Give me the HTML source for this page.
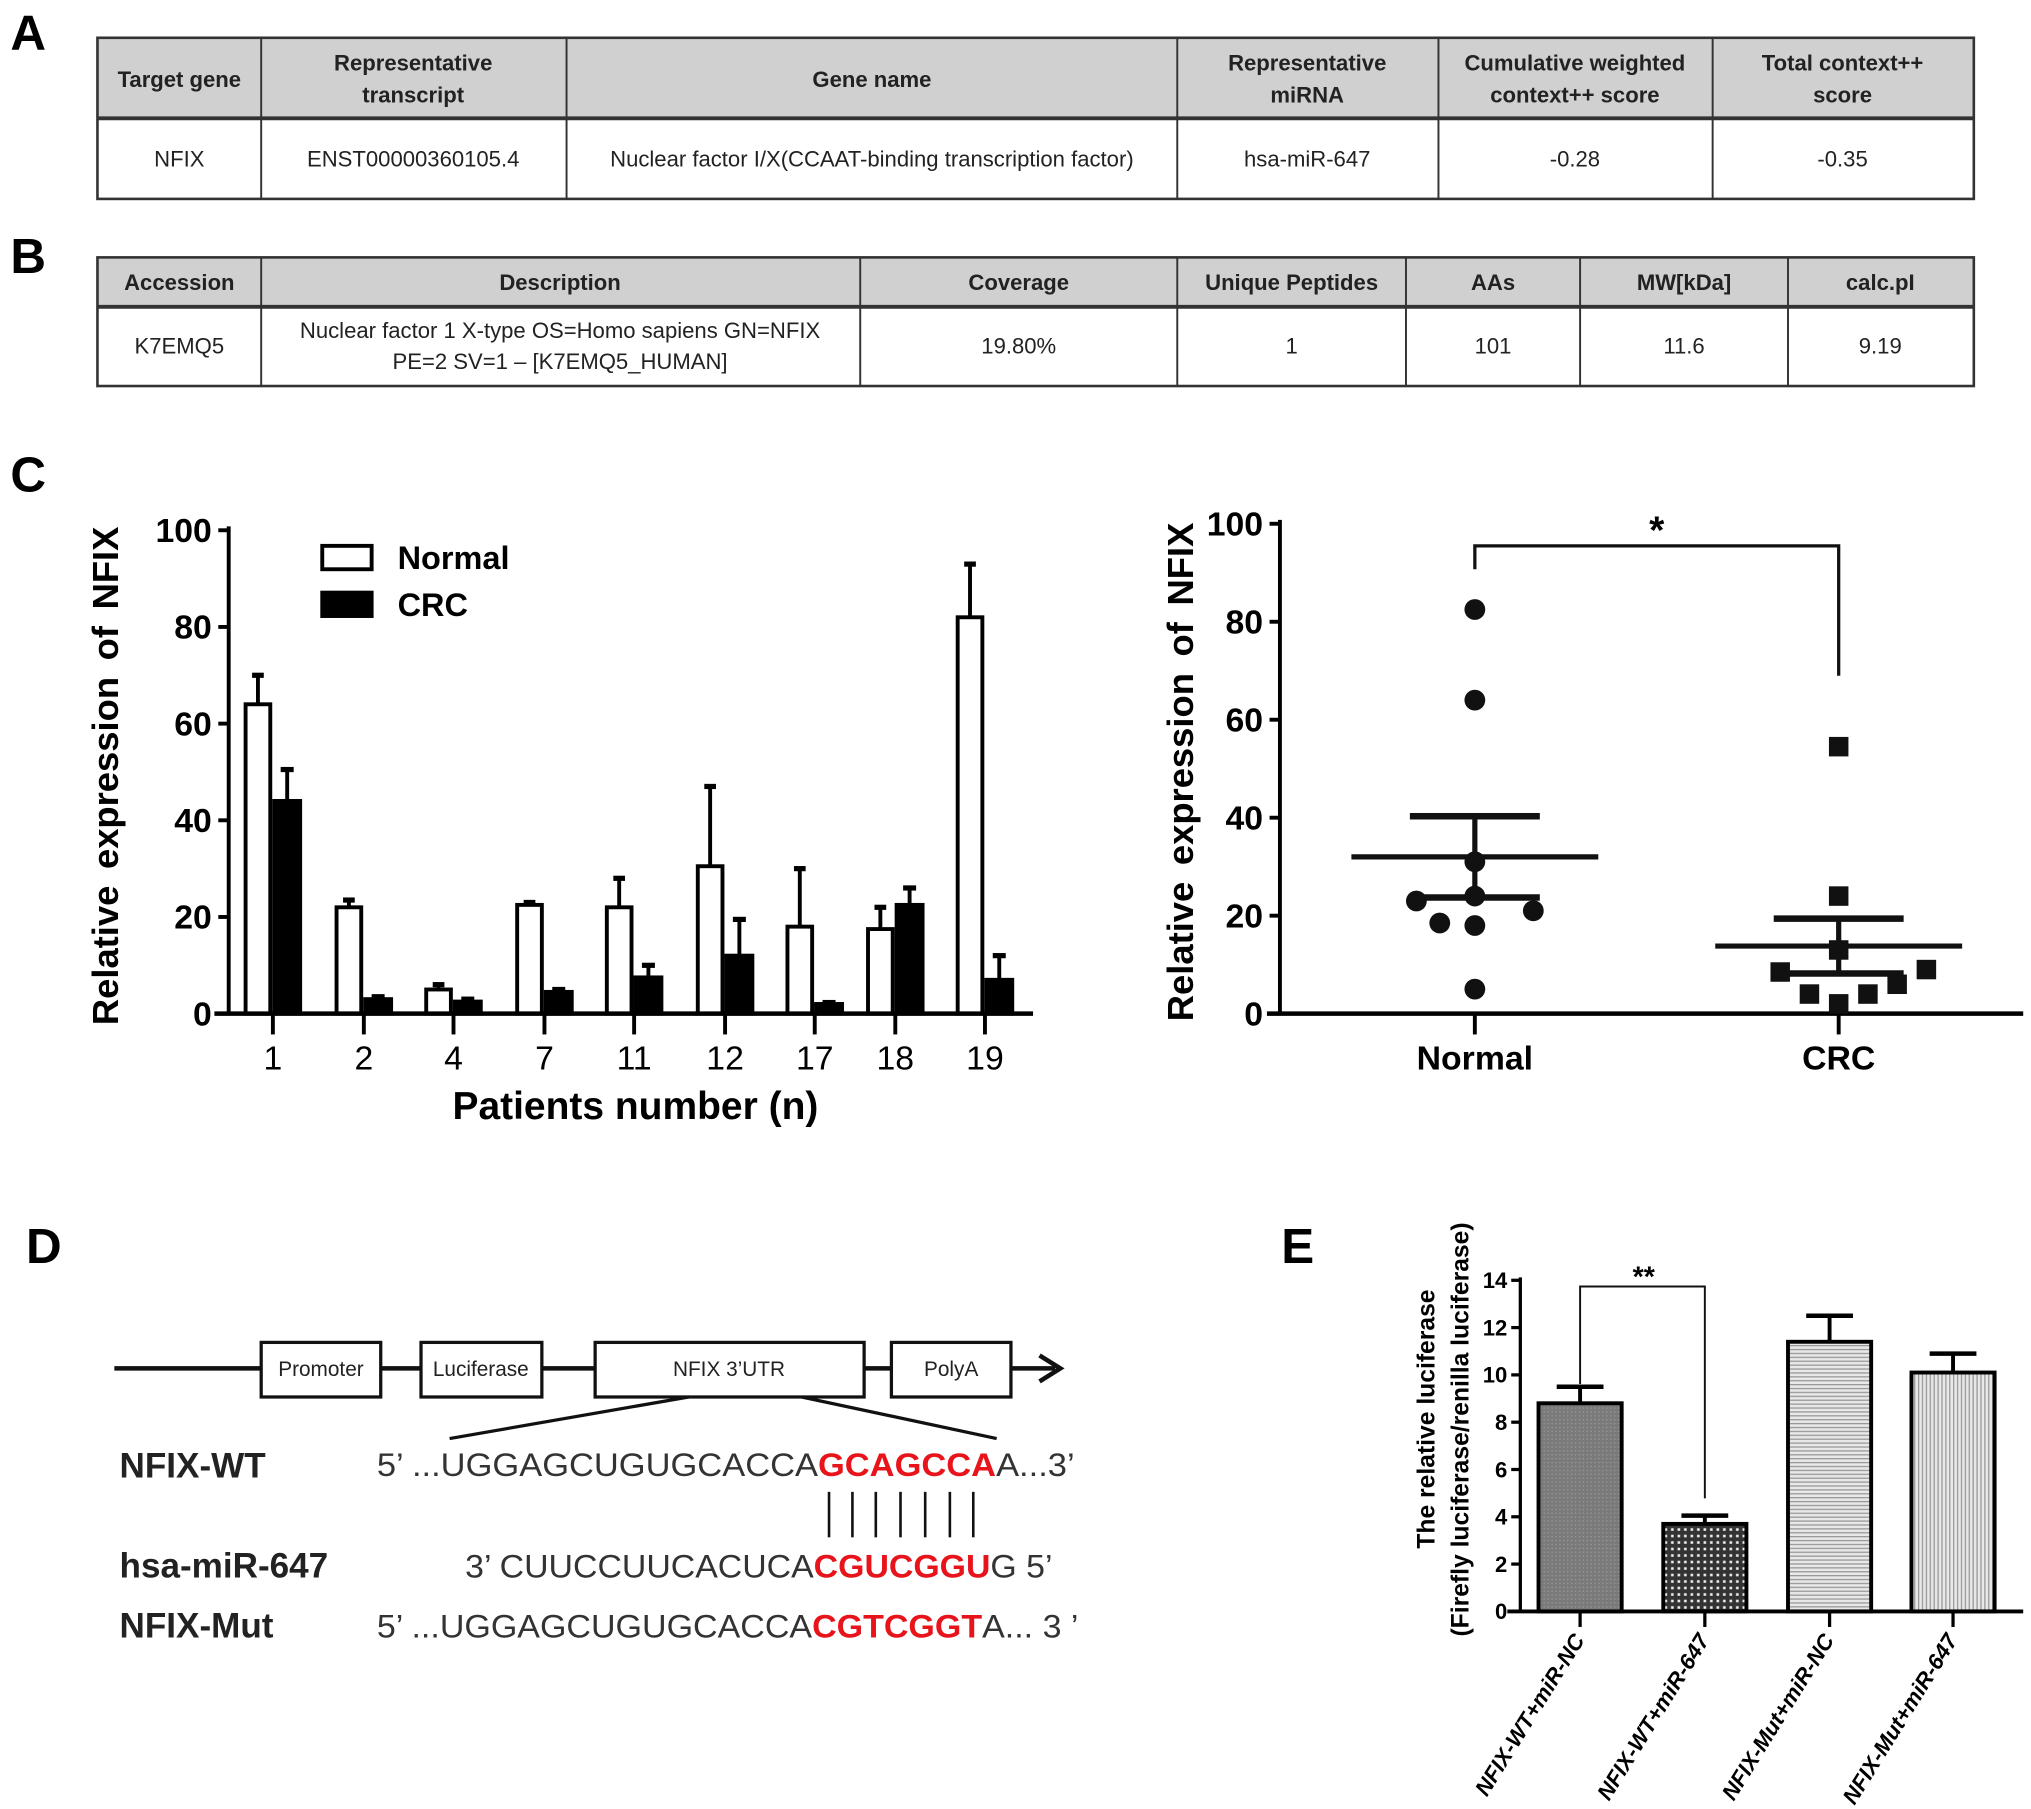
<!DOCTYPE html>
<html><head><meta charset="utf-8"><style>
html,body{margin:0;padding:0;background:#fff;}
svg{display:block;font-family:"Liberation Sans",sans-serif;}
.tb{font-family:"Liberation Sans Narrow","Liberation Sans",sans-serif;font-size:17px;fill:#222;}
</style></head><body>
<svg width="2031" height="1809" viewBox="0 0 1563 1392">
<defs>
<pattern id="pDark" width="3" height="3" patternUnits="userSpaceOnUse"><rect width="3" height="3" fill="#7a7a7a"/><rect width="1" height="1" fill="#9a9a9a"/></pattern>
<pattern id="pCheck" width="5" height="5" patternUnits="userSpaceOnUse"><rect width="5" height="5" fill="#333"/><rect x="1" y="1" width="2" height="2" fill="#eee"/></pattern>
<pattern id="pHor" width="4" height="3" patternUnits="userSpaceOnUse"><rect width="4" height="3" fill="#e8e8e8"/><rect width="4" height="1" fill="#999"/></pattern>
<pattern id="pVer" width="3" height="4" patternUnits="userSpaceOnUse"><rect width="3" height="4" fill="#e8e8e8"/><rect width="1" height="4" fill="#999"/></pattern>
</defs>

<g font-weight="bold" font-size="38">
<text x="8" y="38">A</text><text x="8" y="210">B</text><text x="8" y="378">C</text><text x="20" y="972">D</text><text x="986" y="972">E</text>
</g>

<g>
<rect x="75" y="29" width="1444" height="62" fill="#d0d0d0"/>
<rect x="75" y="29" width="1444" height="124" fill="none" stroke="#333" stroke-width="2"/>
<line x1="75" y1="91" x2="1519" y2="91" stroke="#333" stroke-width="3"/>
<g stroke="#333" stroke-width="1.5"><line x1="201" y1="29" x2="201" y2="153"/><line x1="436" y1="29" x2="436" y2="153"/><line x1="906" y1="29" x2="906" y2="153"/><line x1="1107" y1="29" x2="1107" y2="153"/><line x1="1318" y1="29" x2="1318" y2="153"/></g>
<g class="tb" text-anchor="middle" font-weight="bold">
<text x="138" y="67">Target gene</text>
<text x="318" y="54">Representative</text><text x="318" y="79">transcript</text>
<text x="671" y="67">Gene name</text>
<text x="1006" y="54">Representative</text><text x="1006" y="79">miRNA</text>
<text x="1212" y="54">Cumulative weighted</text><text x="1212" y="79">context++ score</text>
<text x="1418" y="54">Total context++</text><text x="1418" y="79">score</text>
</g>
<g class="tb" text-anchor="middle">
<text x="138" y="128">NFIX</text><text x="318" y="128">ENST00000360105.4</text>
<text x="671" y="128">Nuclear factor I/X(CCAAT-binding transcription factor)</text>
<text x="1006" y="128">hsa-miR-647</text><text x="1212" y="128">-0.28</text><text x="1418" y="128">-0.35</text>
</g></g>

<g>
<rect x="75" y="198" width="1444" height="38" fill="#d0d0d0"/>
<rect x="75" y="198" width="1444" height="99" fill="none" stroke="#333" stroke-width="2"/>
<line x1="75" y1="236" x2="1519" y2="236" stroke="#333" stroke-width="3"/>
<g stroke="#333" stroke-width="1.5"><line x1="201" y1="198" x2="201" y2="297"/><line x1="662" y1="198" x2="662" y2="297"/><line x1="906" y1="198" x2="906" y2="297"/><line x1="1082" y1="198" x2="1082" y2="297"/><line x1="1216" y1="198" x2="1216" y2="297"/><line x1="1376" y1="198" x2="1376" y2="297"/></g>
<g class="tb" text-anchor="middle" font-weight="bold">
<text x="138" y="223">Accession</text><text x="431" y="223">Description</text><text x="784" y="223">Coverage</text>
<text x="994" y="223">Unique Peptides</text><text x="1149" y="223">AAs</text><text x="1296" y="223">MW[kDa]</text><text x="1447" y="223">calc.pI</text>
</g>
<g class="tb" text-anchor="middle">
<text x="138" y="272">K7EMQ5</text>
<text x="431" y="260">Nuclear factor 1 X-type OS=Homo sapiens GN=NFIX</text>
<text x="431" y="284">PE=2 SV=1 – [K7EMQ5_HUMAN]</text>
<text x="784" y="272">19.80%</text><text x="994" y="272">1</text><text x="1149" y="272">101</text><text x="1296" y="272">11.6</text><text x="1447" y="272">9.19</text>
</g></g>

<g id="chartC1"></g>
<g id="chartC2"></g>

<g>
<line x1="88" y1="1053" x2="812" y2="1053" stroke="#111" stroke-width="3.5"/>
<polyline points="800,1043 816,1053 800,1063" fill="none" stroke="#111" stroke-width="3.5"/>
<g fill="#fff" stroke="#111" stroke-width="2.5">
<rect x="201" y="1033" width="92" height="42"/><rect x="324" y="1033" width="93" height="42"/><rect x="458" y="1033" width="207" height="42"/><rect x="686" y="1033" width="92" height="42"/>
</g>
<g font-size="16" text-anchor="middle" fill="#222" font-family="Liberation Sans Narrow,Liberation Sans,sans-serif">
<text x="247" y="1059">Promoter</text><text x="370" y="1059">Luciferase</text><text x="561" y="1059">NFIX 3’UTR</text><text x="732" y="1059">PolyA</text>
</g>
<line x1="530" y1="1075" x2="346" y2="1107" stroke="#111" stroke-width="2.5"/>
<line x1="617" y1="1075" x2="767" y2="1107" stroke="#111" stroke-width="2.5"/>
<g font-size="27" font-weight="bold" fill="#222">
<text x="92" y="1137">NFIX-WT</text><text x="92" y="1214">hsa-miR-647</text><text x="92" y="1260">NFIX-Mut</text>
</g>
<g font-size="25" fill="#333">
<text x="290" y="1136" textLength="537" lengthAdjust="spacingAndGlyphs">5’ ...UGGAGCUGUGCACCA<tspan fill="#e8141c" font-weight="bold">GCAGCCA</tspan>A...3’</text>
<text x="358" y="1214" textLength="452" lengthAdjust="spacingAndGlyphs">3’ CUUCCUUCACUCA<tspan fill="#e8141c" font-weight="bold">CGUCGGU</tspan>G 5’</text>
<text x="290" y="1260" textLength="540" lengthAdjust="spacingAndGlyphs">5’ ...UGGAGCUGUGCACCA<tspan fill="#e8141c" font-weight="bold">CGTCGGT</tspan>A... 3 ’</text>
</g>
<g stroke="#111" stroke-width="2">
<line x1="638" y1="1148" x2="638" y2="1183"/><line x1="656" y1="1148" x2="656" y2="1183"/><line x1="674" y1="1148" x2="674" y2="1183"/><line x1="693" y1="1148" x2="693" y2="1183"/><line x1="712" y1="1148" x2="712" y2="1183"/><line x1="731" y1="1148" x2="731" y2="1183"/><line x1="749" y1="1148" x2="749" y2="1183"/>
</g>
</g>

<g id="chartE"></g>
</svg>

<script>
const cCats = ["1","2","4","7","11","12","17","18","19"];
const cNormal = [64,22,5,22.5,22,30.5,18,17.5,82];
const cNormalErr = [6,1.5,1,0.5,6,16.5,12,4.5,11];
const cCRC = [44,3,2.5,4.5,7.5,12,2,22.5,7];
const cCRCErr = [6.5,0.5,0.5,0.5,2.5,7.5,0.3,3.5,5];
const cTicks = [0,20,40,60,80,100];
const sGroups = ["Normal","CRC"];
const sNormalVals = [82.5,64,31,24,23,21,18.5,18,5];
const sNormalJit = [0,0,0,0,-1,1,-0.6,0,0];
const sCRCVals = [54.5,24,13,8.5,9,6,4,4,2];
const sCRCJit = [0,0,0,-1,1.5,1,-0.5,0.5,0];
const sMean = [32,13.8];
const sSem = [8.3,5.6];
const sTicks = [0,20,40,60,80,100];
const eCats = ["NFIX-WT+miR-NC","NFIX-WT+miR-647","NFIX-Mut+miR-NC","NFIX-Mut+miR-647"];
const eVals = [8.8,3.7,11.4,10.1];
const eErr = [0.7,0.35,1.1,0.8];
const eTicks = [0,2,4,6,8,10,12,14];

const NS="http://www.w3.org/2000/svg";
function mk(p,tag,attrs,txt){const e=document.createElementNS(NS,tag);for(const k in attrs)e.setAttribute(k,attrs[k]);if(txt!==undefined)e.textContent=txt;p.appendChild(e);return e;}

(function(){
const g=document.getElementById('chartC1');
const y=v=>780-3.72*v;
const xs=[210,280,349,419,488,558,627,689,758];
const x=i=>xs[i];
cNormal.forEach((v,i)=>{
  const b=mk(g,'rect',{x:x(i)-21,y:y(v),width:19,height:780-y(v),fill:'#fff',stroke:'#000','stroke-width':3});
  
  
  mk(g,'line',{x1:x(i)-11.5,x2:x(i)-11.5,y1:y(v),y2:y(v+cNormalErr[i]),stroke:'#000','stroke-width':3});
  mk(g,'line',{x1:x(i)-16,x2:x(i)-7,y1:y(v+cNormalErr[i]),y2:y(v+cNormalErr[i]),stroke:'#000','stroke-width':4});
  const c=cCRC[i];
  const b2=mk(g,'rect',{x:x(i)+1,y:y(c),width:20,height:780-y(c),fill:'#000',stroke:'#000','stroke-width':3});
  
  
  mk(g,'line',{x1:x(i)+11,x2:x(i)+11,y1:y(c),y2:y(c+cCRCErr[i]),stroke:'#000','stroke-width':3});
  mk(g,'line',{x1:x(i)+6,x2:x(i)+16,y1:y(c+cCRCErr[i]),y2:y(c+cCRCErr[i]),stroke:'#000','stroke-width':4});
  mk(g,'line',{x1:x(i),x2:x(i),y1:780,y2:796,stroke:'#000','stroke-width':3});
  mk(g,'text',{x:x(i),y:823,'font-size':26,'text-anchor':'middle'},cCats[i]);
});
mk(g,'line',{x1:176,x2:176,y1:405,y2:781,stroke:'#000','stroke-width':3});
mk(g,'line',{x1:165,x2:795,y1:780,y2:780,stroke:'#000','stroke-width':3.5});
cTicks.forEach(t=>{mk(g,'line',{x1:168,x2:176,y1:y(t),y2:y(t),stroke:'#000','stroke-width':3});
  mk(g,'text',{x:163,y:y(t)+9,'font-size':26,'font-weight':'bold','text-anchor':'end'},t);});
mk(g,'text',{x:489,y:861,'font-size':30,'font-weight':'bold','text-anchor':'middle'},'Patients number (n)');
mk(g,'text',{transform:'translate(91,597) rotate(-90)','font-size':28,'font-weight':'bold','text-anchor':'middle','word-spacing':5},'Relative  expression of NFIX');
mk(g,'rect',{x:248,y:420,width:38,height:18,fill:'#fff',stroke:'#000','stroke-width':3});
mk(g,'rect',{x:248,y:456,width:38,height:18,fill:'#000',stroke:'#000','stroke-width':3});
mk(g,'text',{x:306,y:438,'font-size':25,'font-weight':'bold'},'Normal');
mk(g,'text',{x:306,y:474,'font-size':25,'font-weight':'bold'},'CRC');
})();

(function(){
const g=document.getElementById('chartC2');
const y=v=>780-3.77*v;
const xc=[1135,1415];
mk(g,'line',{x1:985,x2:985,y1:400,y2:781,stroke:'#000','stroke-width':3});
mk(g,'line',{x1:975,x2:1557,y1:780,y2:780,stroke:'#000','stroke-width':3.5});
sTicks.forEach(t=>{mk(g,'line',{x1:977,x2:985,y1:y(t),y2:y(t),stroke:'#000','stroke-width':3});
  mk(g,'text',{x:972,y:y(t)+9,'font-size':26,'font-weight':'bold','text-anchor':'end'},t);});
sGroups.forEach((s,i)=>{mk(g,'line',{x1:xc[i],x2:xc[i],y1:780,y2:796,stroke:'#000','stroke-width':3});
  mk(g,'text',{x:xc[i],y:823,'font-size':26,'font-weight':'bold','text-anchor':'middle'},s);});
sNormalVals.forEach((v,i)=>{const c=mk(g,'circle',{cx:xc[0]+sNormalJit[i]*45,cy:y(v),r:8,fill:'#111'});
  
  });
sCRCVals.forEach((v,i)=>{const c=mk(g,'rect',{x:xc[1]+sCRCJit[i]*45-7.5,y:y(v)-7.5,width:15,height:15,fill:'#111'});
  
  });
sMean.forEach((m,i)=>{
  mk(g,'line',{x1:xc[i]-95,x2:xc[i]+95,y1:y(m),y2:y(m),stroke:'#111','stroke-width':4});
  mk(g,'line',{x1:xc[i],x2:xc[i],y1:y(m+sSem[i]),y2:y(m-sSem[i]),stroke:'#111','stroke-width':4});
  mk(g,'line',{x1:xc[i]-50,x2:xc[i]+50,y1:y(m+sSem[i]),y2:y(m+sSem[i]),stroke:'#111','stroke-width':5});
  mk(g,'line',{x1:xc[i]-50,x2:xc[i]+50,y1:y(m-sSem[i]),y2:y(m-sSem[i]),stroke:'#111','stroke-width':5});
});
mk(g,'polyline',{points:`${xc[0]},438 ${xc[0]},420 ${xc[1]},420 ${xc[1]},520`,fill:'none',stroke:'#111','stroke-width':2.5});
mk(g,'text',{x:1275,y:418,'font-size':30,'font-weight':'bold','text-anchor':'middle'},'*');
mk(g,'text',{transform:'translate(918,594) rotate(-90)','font-size':28,'font-weight':'bold','text-anchor':'middle','word-spacing':5},'Relative  expression of NFIX');
})();

(function(){
const g=document.getElementById('chartE');
const y=v=>1240-18.2*v;
const xs=[1216,1312,1408,1503];
const fills=['url(#pDark)','url(#pCheck)','url(#pHor)','url(#pVer)'];
mk(g,'line',{x1:1170,x2:1170,y1:983,y2:1241,stroke:'#000','stroke-width':2.5});
mk(g,'line',{x1:1160,x2:1557,y1:1240,y2:1240,stroke:'#000','stroke-width':3});
eTicks.forEach(t=>{mk(g,'line',{x1:1163,x2:1170,y1:y(t),y2:y(t),stroke:'#000','stroke-width':2.5});
  mk(g,'text',{x:1160,y:y(t)+6,'font-size':17,'font-weight':'bold','text-anchor':'end'},t);});
eVals.forEach((v,i)=>{
  const b=mk(g,'rect',{x:xs[i]-32,y:y(v),width:64,height:1240-y(v),fill:fills[i],stroke:'#000','stroke-width':3});
  
  
  mk(g,'line',{x1:xs[i],x2:xs[i],y1:y(v),y2:y(v+eErr[i]),stroke:'#000','stroke-width':3});
  mk(g,'line',{x1:xs[i]-18,x2:xs[i]+18,y1:y(v+eErr[i]),y2:y(v+eErr[i]),stroke:'#000','stroke-width':3.5});
  mk(g,'line',{x1:xs[i],x2:xs[i],y1:1240,y2:1252,stroke:'#000','stroke-width':2.5});
  mk(g,'text',{transform:`translate(${xs[i]+4},1262) rotate(-58)`,'font-size':17,'font-weight':'bold','font-style':'italic','text-anchor':'end'},eCats[i]);
});
mk(g,'polyline',{points:`${xs[0]},1065 ${xs[0]},990 ${xs[1]},990 ${xs[1]},1153`,fill:'none',stroke:'#111','stroke-width':1.5});
mk(g,'text',{x:1265,y:990,'font-size':22,'font-weight':'bold','text-anchor':'middle'},'**');
mk(g,'text',{transform:'translate(1104,1092) rotate(-90)','font-size':19,'font-weight':'bold','text-anchor':'middle'},'The relative luciferase');
mk(g,'text',{transform:'translate(1130,1100) rotate(-90)','font-size':19,'font-weight':'bold','text-anchor':'middle'},'(Firefly luciferase/renilla luciferase)');
})();
</script>
</body></html>
